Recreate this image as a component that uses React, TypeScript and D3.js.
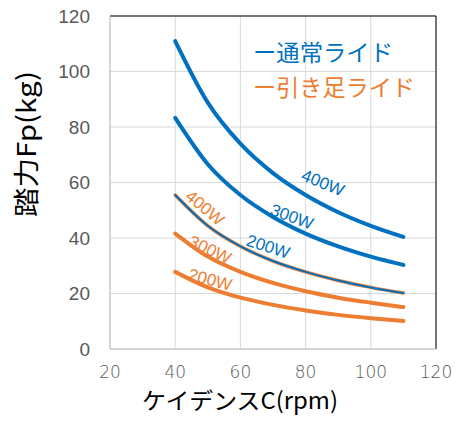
import React from "react";
import * as d3 from "d3";

const cadence = [40, 50, 60, 70, 80, 90, 100, 110];
const normal400 = [111, 88.8, 74, 63.4, 55.5, 49.3, 44.4, 40.4];
const normal300 = [83.3, 66.6, 55.5, 47.6, 41.6, 37, 33.3, 30.3];
const normal200 = [55.5, 44.4, 37, 31.7, 27.8, 24.7, 22.2, 20.2];
const pull400 = [55.5, 44.4, 37, 31.7, 27.8, 24.7, 22.2, 20.2];
const pull300 = [41.6, 33.3, 27.8, 23.8, 20.8, 18.5, 16.7, 15.1];
const pull200 = [27.8, 22.2, 18.5, 15.9, 13.9, 12.3, 11.1, 10.1];
const xTicks = [20, 40, 60, 80, 100, 120];
const yTicks = [0, 20, 40, 60, 80, 100, 120];
const legendLabels = ["ー通常ライド", "ー引き足ライド"];
const curveLabels = ["400W", "300W", "200W"];

const BLUE = "#0070C0";
const ORANGE = "#ED7D31";

export default function App() {
  const W = 459, H = 426;
  const x = d3.scaleLinear().domain([20, 120]).range([110, 436]);
  const y = d3.scaleLinear().domain([0, 120]).range([349, 16]);
  const line = d3
    .line<number>()
    .x((_, i) => x(cadence[i]))
    .y((d) => y(d))
    .curve(d3.curveMonotoneX);

  const series = [
    { vals: pull200, color: ORANGE, w: 4 },
    { vals: pull300, color: ORANGE, w: 4 },
    { vals: pull400, color: ORANGE, w: 3.5 },
    { vals: normal400, color: BLUE, w: 4 },
    { vals: normal300, color: BLUE, w: 4 },
    { vals: normal200, color: BLUE, w: 2 },
  ];

  const labels = [
    { t: curveLabels[0], c: BLUE, px: 85.3, py: 59.8, r: 22 },
    { t: curveLabels[1], c: BLUE, px: 75.8, py: 47.6, r: 20 },
    { t: curveLabels[2], c: BLUE, px: 68.5, py: 36.8, r: 18 },
    { t: curveLabels[0], c: ORANGE, px: 49.1, py: 50.8, r: 40 },
    { t: curveLabels[1], c: ORANGE, px: 50.7, py: 35.7, r: 25 },
    { t: curveLabels[2], c: ORANGE, px: 50.7, py: 24.9, r: 15 },
  ];

  const font = "'Noto Sans CJK JP', 'Liberation Sans', Arial, sans-serif";

  return (
    <svg
      width={W}
      height={H}
      style={{ position: "absolute", left: 0, top: 0, background: "#fff" }}
      fontFamily={font}
    >
      <rect x={0} y={0} width={W} height={H} fill="#fff" />
      {xTicks.map((t) => (
        <line key={"gx" + t} x1={x(t)} x2={x(t)} y1={y(0)} y2={y(120)} stroke="#D9D9D9" strokeWidth={1} />
      ))}
      {yTicks.map((t) => (
        <line key={"gy" + t} x1={x(20)} x2={x(120)} y1={y(t)} y2={y(t)} stroke="#D9D9D9" strokeWidth={1} />
      ))}
      <line x1={x(20)} x2={x(120)} y1={y(120)} y2={y(120)} stroke="#000" strokeWidth={1} />
      <line x1={x(120)} x2={x(120)} y1={y(0)} y2={y(120)} stroke="#000" strokeWidth={1} />
      <line x1={x(20)} x2={x(20)} y1={y(0)} y2={y(120)} stroke="#BFBFBF" strokeWidth={1} />
      <line x1={x(20)} x2={x(120)} y1={y(0)} y2={y(0)} stroke="#BFBFBF" strokeWidth={1} />

      {series.map((s, i) => (
        <path key={i} d={line(s.vals) || ""} fill="none" stroke={s.color} strokeWidth={s.w} strokeLinecap="round" />
      ))}

      {labels.map((l, i) => (
        <text
          key={"l" + i}
          x={x(l.px)}
          y={y(l.py)}
          fill={l.c}
          fontSize={17}
          fontFamily="'Liberation Sans', Arial, sans-serif"
          textAnchor="middle"
          dominantBaseline="central"
          transform={`rotate(${l.r}, ${x(l.px)}, ${y(l.py)})`}
        >
          {l.t}
        </text>
      ))}

      {yTicks.map((t) => (
        <text key={"ty" + t} x={90} y={y(t)} dy="0.35em" textAnchor="end" fontSize={19} fill="#595959" fontFamily="'Liberation Sans', Arial, sans-serif">
          {t}
        </text>
      ))}
      {xTicks.map((t) => (
        <text key={"tx" + t} x={x(t)} y={378} textAnchor="middle" fontSize={17} fill="#595959" fontFamily="'DejaVu Sans', sans-serif" fontWeight={200}>
          {t}
        </text>
      ))}

      <text x={253} y={61} fontSize={23} fill={BLUE} textLength={140} lengthAdjust="spacingAndGlyphs">{legendLabels[0]}</text>
      <text x={253} y={96} fontSize={23} fill={ORANGE} textLength={162} lengthAdjust="spacingAndGlyphs">{legendLabels[1]}</text>

      <text
        x={0}
        y={0}
        transform="translate(36,144) rotate(-90)"
        textAnchor="middle"
        fontSize={26}
        fill="#000"
        textLength={146}
        lengthAdjust="spacingAndGlyphs"
      >
        踏力Fp(kg)
      </text>
      <text x={240} y={409} textAnchor="middle" fontSize={23} fill="#000" textLength={196} lengthAdjust="spacingAndGlyphs">
        ケイデンスC(rpm)
      </text>
    </svg>
  );
}
